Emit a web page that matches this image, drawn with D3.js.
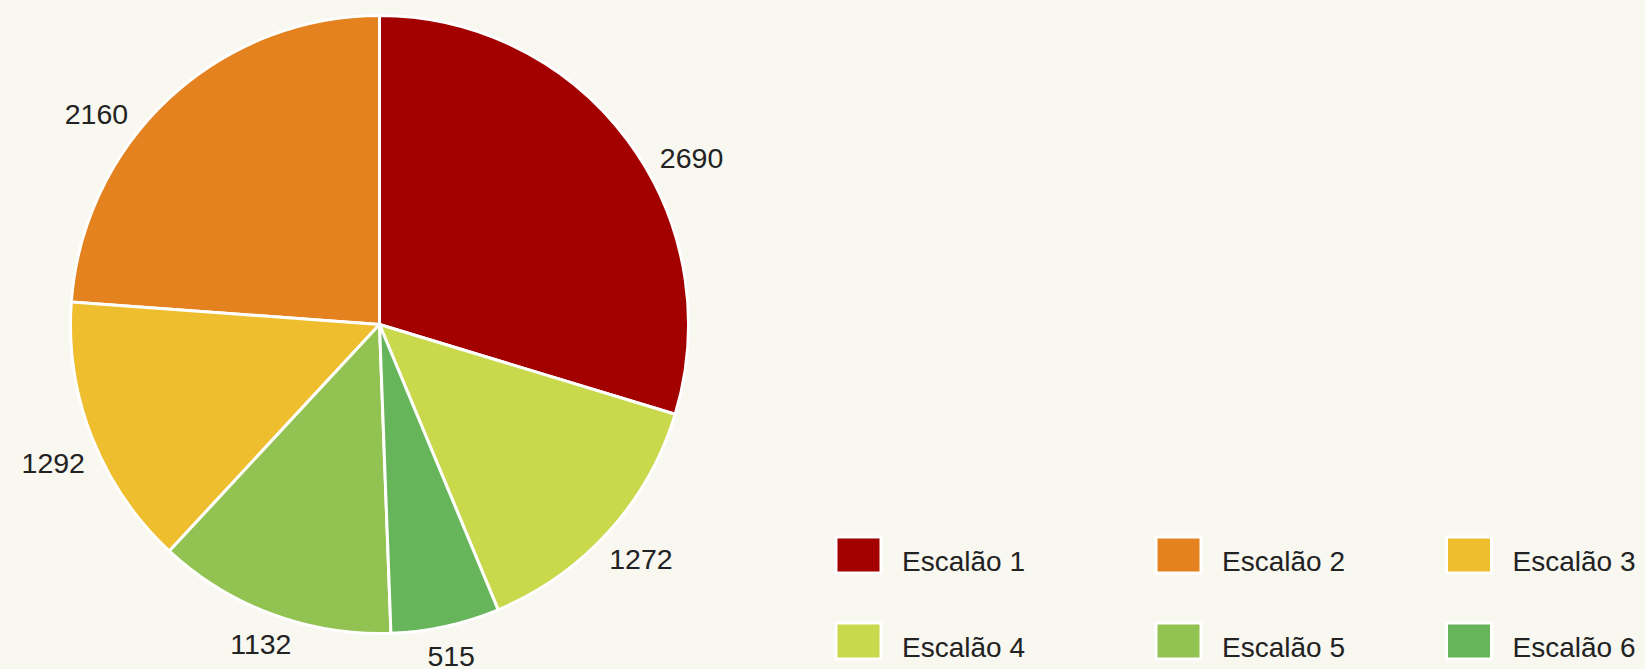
<!DOCTYPE html>
<html>
<head>
<meta charset="utf-8">
<script src="https://cdn.jsdelivr.net/npm/d3@7"></script>
<style>
  html, body { margin: 0; padding: 0; background: #f8f7f0; }
  svg { display: block; }
  text { font-family: "Liberation Sans", Arial, Helvetica, sans-serif; fill: #222; }
</style>
</head>
<body>
<svg id="chart" width="1645" height="669"></svg>
<script>
// ---- data ----
const categories = ["Escalão 1", "Escalão 2", "Escalão 3", "Escalão 4", "Escalão 5", "Escalão 6"];
const values = [2690, 2160, 1292, 1272, 1132, 515];
const colors = ["#a30000", "#e3821f", "#efbe2e", "#cad84b", "#92c251", "#66b55a"];
// clockwise drawing order of the slices, starting at 12 o'clock
const drawOrder = ["Escalão 1", "Escalão 4", "Escalão 6", "Escalão 5", "Escalão 3", "Escalão 2"];

// ---- layout ----
const W = 1645, H = 669;
const cx = 379.5, cy = 324.5, radius = 309;
const labelFont = 28.5, labelH = 21;
const labelRy = 317, labelDy = 22, labelRc = 321, labelRmid = 335;
const svg = d3.select("#chart");
svg.append("rect").attr("width", W).attr("height", H).attr("fill", "#f8f7f0");

const data = categories.map((c, i) => ({ cat: c, value: values[i] }));
const color = d3.scaleOrdinal().domain(categories).range(colors);

const pie = d3.pie()
  .value(d => d.value)
  .sort((a, b) => drawOrder.indexOf(a.cat) - drawOrder.indexOf(b.cat));
const arcs = pie(data);
const arc = d3.arc().innerRadius(0).outerRadius(radius);
const mid = d => (d.startAngle + d.endAngle) / 2;

const g = svg.append("g").attr("transform", `translate(${cx},${cy})`);
g.selectAll("path.slice")
  .data(arcs)
  .join("path")
  .attr("class", "slice")
  .attr("d", arc)
  .attr("fill", d => color(d.data.cat))
  .attr("stroke", "#ffffff")
  .attr("stroke-width", 3)
  .attr("stroke-linejoin", "round");

// outside labels: vertical position from the mid angle, horizontal position hugging the pie
function labelPos(d) {
  const a = mid(d), s = Math.sin(a);
  const y = -labelRy * Math.cos(a) + labelDy;
  if (Math.abs(s) < 0.3) return { x: labelRmid * s, y, anchor: "middle" };
  const inner = y < 0 ? y + labelH / 2 : y - labelH / 2;
  const xe = Math.sqrt(Math.max(0, labelRc * labelRc - inner * inner));
  return s > 0 ? { x: xe, y, anchor: "start" } : { x: -xe, y, anchor: "end" };
}

g.selectAll("text.val")
  .data(arcs)
  .join("text")
  .attr("class", "val")
  .each(function (d) {
    const p = labelPos(d);
    d3.select(this).attr("x", p.x).attr("y", p.y).attr("text-anchor", p.anchor);
  })
  .attr("dy", "0.35em")
  .style("font-size", labelFont + "px")
  .text(d => d.data.value);

// ---- legend ----
const legendCols = [836, 1156, 1446.5];
const legendRows = [537, 623];
const boxW = 45, boxH = 36;
const leg = svg.append("g").attr("class", "legend");
const items = leg.selectAll("g.item")
  .data(categories)
  .join("g")
  .attr("class", "item")
  .attr("transform", (d, i) => `translate(${legendCols[i % 3]},${legendRows[Math.floor(i / 3)]})`);
items.append("rect")
  .attr("width", boxW).attr("height", boxH)
  .attr("fill", d => color(d))
  .attr("stroke", "#ffffff").attr("stroke-width", 3);
items.append("text")
  .attr("x", 66).attr("y", boxH - 2)
  .style("font-size", "28px")
  .text(d => d);
</script>
</body>
</html>
